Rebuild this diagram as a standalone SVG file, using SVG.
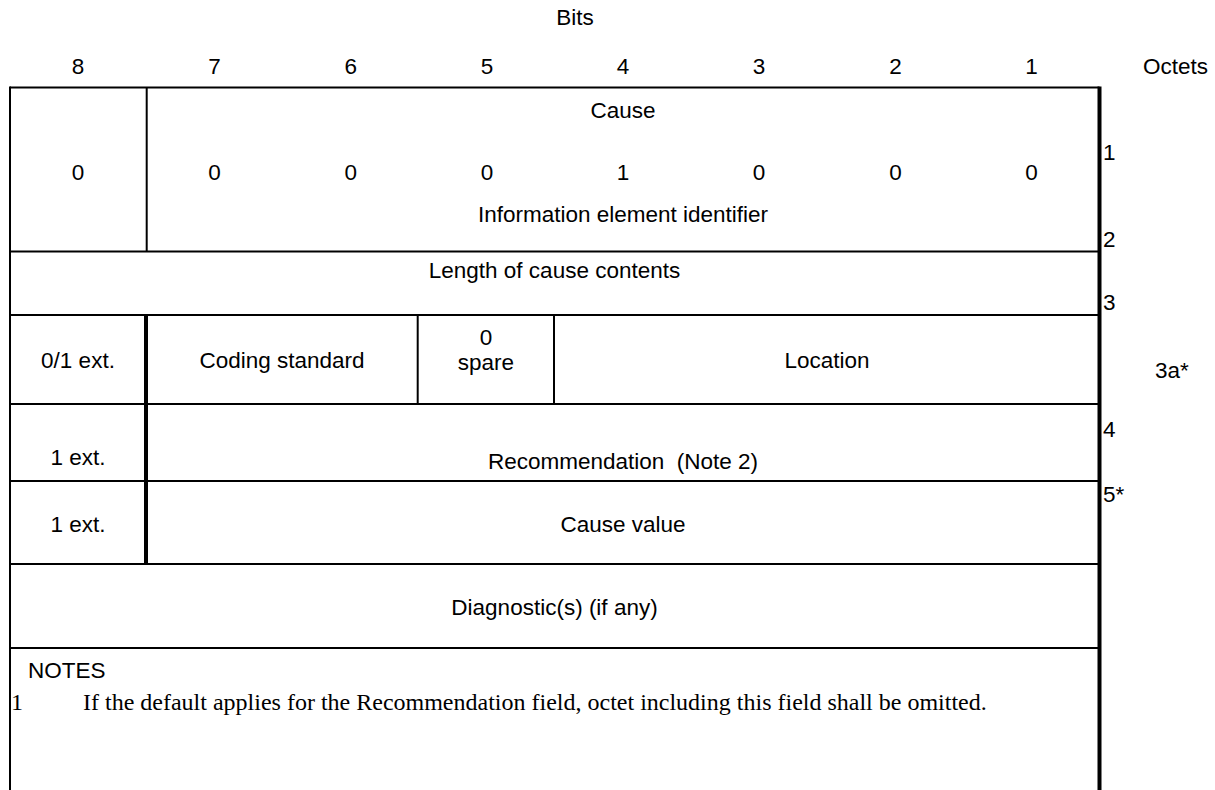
<svg xmlns="http://www.w3.org/2000/svg" width="1215" height="790" viewBox="0 0 1215 790">
  <style>
    .t { font-family: "Liberation Sans", Arial, sans-serif; font-size: 22.5px; fill: #000; }
    .c { text-anchor: middle; }
    .pre { white-space: pre; }
    .serif { font-family: "Liberation Serif", "Times New Roman", serif; font-size: 24px; fill: #000; }
    .ln { stroke: #000; stroke-width: 2; fill: none; }
    .thick { stroke: #000; stroke-width: 4; fill: none; }
  </style>
  <rect width="1215" height="790" fill="#fff"/>

  <!-- header: bit numbers and octet column title -->
  <g id="header">
    <text class="t c" x="575" y="25">Bits</text>
    <text class="t c" x="78" y="74">8</text>
    <text class="t c" x="214.5" y="74">7</text>
    <text class="t c" x="350.7" y="74">6</text>
    <text class="t c" x="486.9" y="74">5</text>
    <text class="t c" x="623" y="74">4</text>
    <text class="t c" x="759" y="74">3</text>
    <text class="t c" x="895.5" y="74">2</text>
    <text class="t c" x="1031.6" y="74">1</text>
    <text class="t" x="1143" y="74">Octets</text>
  </g>

  <!-- frame and row/column rules -->
  <g id="grid">
    <line class="ln" x1="10" y1="87.5" x2="1099.5" y2="87.5"/>
    <line class="ln" x1="10" y1="86.5" x2="10" y2="790"/>
    <line class="thick" x1="1099.5" y1="86.5" x2="1099.5" y2="790"/>
    <line class="ln" x1="146.7" y1="87.5" x2="146.7" y2="251.5"/>
    <line class="ln" x1="10" y1="251.5" x2="1099.5" y2="251.5"/>
    <line class="ln" x1="10" y1="315" x2="1099.5" y2="315"/>
    <line class="thick" x1="146" y1="315" x2="146" y2="564"/>
    <line class="ln" x1="417.7" y1="315" x2="417.7" y2="404"/>
    <line class="ln" x1="554" y1="315" x2="554" y2="404"/>
    <line class="ln" x1="10" y1="404" x2="1099.5" y2="404"/>
    <line class="ln" x1="10" y1="481" x2="1099.5" y2="481"/>
    <line class="ln" x1="10" y1="564" x2="1099.5" y2="564"/>
    <line class="ln" x1="10" y1="648" x2="1099.5" y2="648"/>
  </g>

  <!-- octet 1: identifier -->
  <g id="octet1">
    <text class="t c" x="623" y="118">Cause</text>
    <text class="t c" x="78" y="180">0</text>
    <text class="t c" x="214.5" y="180">0</text>
    <text class="t c" x="350.7" y="180">0</text>
    <text class="t c" x="486.9" y="180">0</text>
    <text class="t c" x="623" y="180">1</text>
    <text class="t c" x="759" y="180">0</text>
    <text class="t c" x="895.5" y="180">0</text>
    <text class="t c" x="1031.6" y="180">0</text>
    <text class="t c" x="623" y="222">Information element identifier</text>
  </g>

  <!-- octet 2: length -->
  <g id="octet2">
    <text class="t c" x="554.5" y="278">Length of cause contents</text>
  </g>

  <!-- octet 3 -->
  <g id="octet3">
    <text class="t c" x="78" y="368">0/1 ext.</text>
    <text class="t c" x="282" y="368">Coding standard</text>
    <text class="t c" x="486" y="345">0</text>
    <text class="t c" x="486" y="370">spare</text>
    <text class="t c" x="827" y="368">Location</text>
  </g>

  <!-- octet 3a -->
  <g id="octet3a">
    <text class="t c" x="78" y="465">1 ext.</text>
    <text class="t c pre" x="623" y="469">Recommendation  (Note 2)</text>
  </g>

  <!-- octet 4 -->
  <g id="octet4">
    <text class="t c" x="78" y="532">1 ext.</text>
    <text class="t c" x="623" y="532">Cause value</text>
  </g>

  <!-- octet 5 -->
  <g id="octet5">
    <text class="t c" x="554.5" y="615">Diagnostic(s) (if any)</text>
  </g>

  <!-- octet numbering on the right -->
  <g id="octet-numbers">
    <text class="t" x="1103" y="160">1</text>
    <text class="t" x="1103" y="247">2</text>
    <text class="t" x="1103" y="310">3</text>
    <text class="t" x="1155" y="378">3a*</text>
    <text class="t" x="1103" y="437">4</text>
    <text class="t" x="1103" y="502">5*</text>
  </g>

  <!-- notes -->
  <g id="notes">
    <text class="t" x="28" y="678">NOTES</text>
    <text class="serif" x="11" y="710">1</text>
    <text class="serif" x="83" y="710">If the default applies for the Recommendation field, octet including this field shall be omitted.</text>
  </g>
</svg>
